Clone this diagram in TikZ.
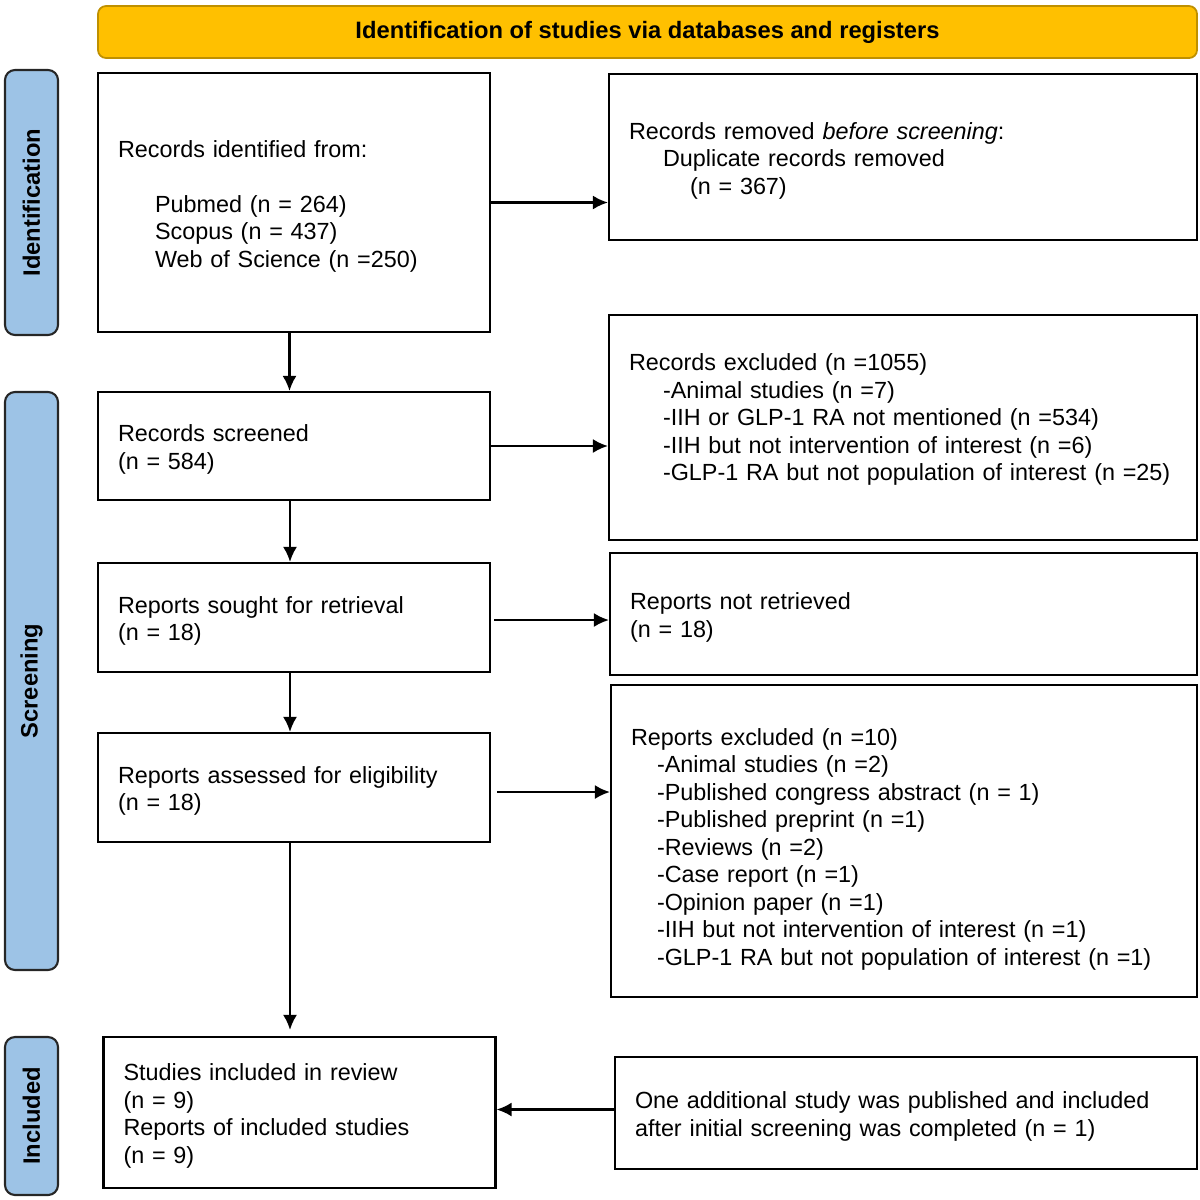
\documentclass[tikz,border=0pt]{standalone}
\usepackage{fontspec}
\setmainfont{Liberation Sans}
\usetikzlibrary{arrows.meta}
\definecolor{pr-BannerColor}{RGB}{255,192,0}
\definecolor{pr-BannerDraw}{RGB}{191,144,0}
\definecolor{pr-PhaseColor}{RGB}{157,195,230}
\tikzstyle{pr-box-base}=[rectangle,
                         draw=black,
                         line width=1.2pt,
                         align=left,
                         inner xsep=0.4cm,
                         inner ysep=0pt,
                         execute at begin node={\rule{0pt}{13.7pt}},
                        ]
\tikzstyle{pr-left}=[pr-box-base,
                     text width=7.04cm]
\tikzstyle{pr-right}=[pr-box-base,
                      text width=10.96cm]
\tikzstyle{pr-phase}=[rectangle,
                      draw=black!85,
                      line width=1.2pt,
                      rounded corners=0.2cm,
                      fill={pr-PhaseColor},
                      rotate=90,
                      minimum height=1.06cm,
                      font=\fontsize{13.5}{15.65}\selectfont\bfseries]
\tikzstyle{pr-banner}=[rectangle,
                       draw={pr-BannerDraw},
                       line width=1pt,
                       rounded corners=0.16cm,
                       fill={pr-BannerColor},
                       minimum width=21.98cm,
                       minimum height=1.04cm,
                       font=\fontsize{13.5}{15.65}\selectfont\bfseries]

\begin{document}
\begin{tikzpicture}[font=\fontsize{13.3}{15.65}\selectfont, line width=1.3pt,
                    >={Latex[length=0.3cm,width=0.28cm]}]
    \useasboundingbox (0,0) rectangle (24,-23.98);

    % Phases
    % --------------------------------------------------------------------------
    \node at (12.95, -0.64) (banner) [pr-banner] {Identification of studies via databases and registers};

    \node at (0.63,  -4.05) (phase_ident)  [pr-phase, minimum width=5.30cm]  {Identification};
    \node at (0.63, -13.62) (phase_screen) [pr-phase, minimum width=11.56cm] {Screening};
    \node at (0.63, -22.32) (phase_incl)   [pr-phase, minimum width=3.16cm]  {Included};

    % Steps
    % --------------------------------------------------------------------------
    \node at ( 5.88,  -4.05) (identified) [pr-left, minimum height=5.18cm]
        {Records identified from:\\[15.65pt]
         \hspace*{0.74cm}Pubmed (n = 264)\\
         \hspace*{0.74cm}Scopus (n = 437)\\
         \hspace*{0.74cm}Web of Science (n =250)};
    \node at (18.06,  -3.14) (removed)    [pr-right, minimum height=3.32cm]
        {Records removed \textit{before screening}:\\
         \hspace*{0.68cm}Duplicate records removed\\
         \hspace*{1.22cm}(n = 367)};

    % ------------------------------------------------------------------------
    \node at ( 5.88,  -8.92) (screened)   [pr-left, minimum height=2.16cm]
        {Records screened\\(n = 584)};
    \node at (18.06,  -8.55) (rec_excl)   [pr-right, minimum height=4.50cm]
        {Records excluded (n =1055)\\
         \hspace*{0.68cm}-Animal studies (n =7)\\
         \hspace*{0.68cm}-IIH or GLP-1 RA not mentioned (n =534)\\
         \hspace*{0.68cm}-IIH but not intervention of interest (n =6)\\
         \hspace*{0.68cm}\mbox{-GLP-1 RA but not population of interest (n =25)}\\
         ~};

    % ------------------------------------------------------------------------
    \node at ( 5.88, -12.35) (sought)     [pr-left, minimum height=2.18cm]
        {Reports sought for retrieval\\(n = 18)};
    \node at (18.07, -12.28) (not_retr)   [pr-right, text width=10.94cm, minimum height=2.44cm]
        {Reports not retrieved\\(n = 18)};

    % ------------------------------------------------------------------------
    \node at ( 5.88, -15.75) (assessed)   [pr-left, minimum height=2.18cm]
        {Reports assessed for eligibility\\(n = 18)};
    \node at (18.08, -16.82) (rep_excl)   [pr-right, text width=10.92cm, minimum height=6.24cm]
        {\rule{0pt}{18.7pt}Reports excluded (n =10)\\
         \hspace*{0.52cm}-Animal studies (n =2)\\
         \hspace*{0.52cm}-Published congress abstract (n = 1)\\
         \hspace*{0.52cm}-Published preprint (n =1)\\
         \hspace*{0.52cm}-Reviews (n =2)\\
         \hspace*{0.52cm}-Case report (n =1)\\
         \hspace*{0.52cm}-Opinion paper (n =1)\\
         \hspace*{0.52cm}-IIH but not intervention of interest (n =1)\\
         \hspace*{0.52cm}-GLP-1 RA but not population of interest (n =1)};

    % ------------------------------------------------------------------------
    \node at ( 5.99, -22.25) (included)   [pr-left, minimum height=3.02cm]
        {Studies included in review\\(n = 9)\\Reports of included studies\\(n = 9)};
    \node at (18.12, -22.26) (additional) [pr-right, text width=10.84cm, minimum height=2.24cm]
        {One additional study was published and included\\after initial screening was completed (n = 1)};

    % Arrows
    % --------------------------------------------------------------------------
    \draw[->] ([xshift=-0.09cm]identified.south) -- ([xshift=-0.09cm]identified.south |- screened.north);
    \draw[->] ([xshift=-0.08cm]screened.south)   -- ([xshift=-0.08cm]screened.south |- sought.north);
    \draw[->] ([xshift=-0.08cm]sought.south)     -- ([xshift=-0.08cm]sought.south |- assessed.north);
    \draw[->, shorten >=0.12cm] ([xshift=-0.08cm]assessed.south) -- ([xshift=-0.08cm]assessed.south |- included.north);

    \draw[->] (identified.east) -- (identified.east -| removed.west);
    \draw[->] (screened.east)   -- (screened.east -| rec_excl.west);
    \draw[->] ([shift={(0.06,-0.05)}]sought.east)   -- ([yshift=-0.05cm]sought.east -| not_retr.west);
    \draw[->] ([shift={(0.12,-0.09)}]assessed.east) -- ([yshift=-0.09cm]assessed.east -| rep_excl.west);
    \draw[->] ([yshift=0.07cm]additional.west) -- ([yshift=0.07cm]additional.west -| included.east);

\end{tikzpicture}
\end{document}
